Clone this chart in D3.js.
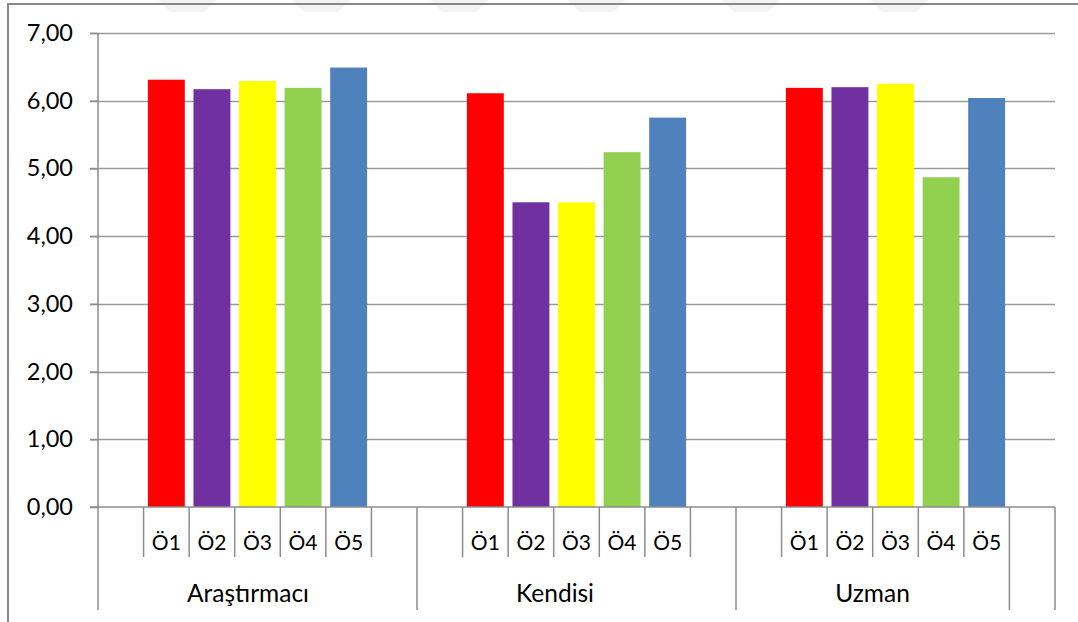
<!DOCTYPE html>
<html>
<head>
<meta charset="utf-8">
<script src="https://cdn.jsdelivr.net/npm/d3@7"></script>
<style>
  html, body { margin: 0; padding: 0; background: #fff; }
  svg { display: block; }
  text { font-family: Lato, "Open Sans", sans-serif; fill: #000; }
</style>
</head>
<body>
<svg id="chart" width="1078" height="622"></svg>
<script>
// Rater groups and the five items rated inside each group
const groups = ["Araştırmacı", "Kendisi", "Uzman"];
const items = ["Ö1", "Ö2", "Ö3", "Ö4", "Ö5"];
const itemColors = ["#FF0000", "#7030A0", "#FFFF00", "#92D050", "#4F81BD"];

// Mean scores per group, in item order
const arastirmaciValues = [6.31, 6.17, 6.29, 6.19, 6.49];
const kendisiValues = [6.11, 4.50, 4.50, 5.24, 5.75];
const uzmanValues = [6.19, 6.20, 6.25, 4.87, 6.04];

const yTicks = [0, 1, 2, 3, 4, 5, 6, 7];

const groupValues = [arastirmaciValues, kendisiValues, uzmanValues];

const svg = d3.select("#chart");
const W = 1078, H = 622;
const plot = { left: 98, right: 1055, top: 33, bottom: 507 };
// horizontal nudge of each group caption, as laid out on the category axis
const groupLabelShift = [-9.5, -21.5, -23];

// faint watermark shapes along the top edge
const wm = svg.append("g").attr("fill", "#f3f3f3");
[158, 292, 430, 568, 722, 870].forEach(x0 => {
  wm.append("path")
    .attr("d", `M${x0},0 L${x0 + 58},0 L${x0 + 46},12 L${x0 + 12},12 Z`);
});

// chart frame
svg.append("path")
  .attr("d", `M8,${H} L8,4 L${W},4`)
  .attr("fill", "none")
  .attr("stroke", "#888")
  .attr("stroke-width", 2);

const y = d3.scaleLinear().domain([0, 7]).range([plot.bottom, plot.top]);

// outer band: rater groups; inner band: one slot per item plus an empty slot each side
const xGroup = d3.scaleBand().domain(groups).range([plot.left, plot.right]).padding(0);
const slotKeys = d3.range(items.length + 2);
const xSlot = d3.scaleBand().domain(slotKeys).range([0, xGroup.bandwidth()]).padding(0);
const barFrac = 0.81;

// horizontal gridlines (extend through the tick marks on the left)
svg.append("g")
  .selectAll("line")
  .data(yTicks.filter(d => d > 0))
  .join("line")
  .attr("x1", plot.left - 8)
  .attr("x2", plot.right)
  .attr("y1", d => Math.round(y(d)) + 0.5)
  .attr("y2", d => Math.round(y(d)) + 0.5)
  .attr("stroke", "#9a9a9a")
  .attr("stroke-width", 1.5);

// bars
const bars = [];
groups.forEach((g, gi) => {
  items.forEach((it, ii) => {
    bars.push({ group: g, item: it, value: groupValues[gi][ii], color: itemColors[ii], slot: ii + 1 });
  });
});
const bw = xSlot.bandwidth() * barFrac;
svg.append("g")
  .selectAll("rect")
  .data(bars)
  .join("rect")
  .attr("x", d => xGroup(d.group) + xSlot(d.slot) + (xSlot.bandwidth() - bw) / 2)
  .attr("width", bw)
  .attr("y", d => y(d.value))
  .attr("height", d => y(0) - y(d.value))
  .attr("fill", d => d.color);

// y axis with value labels
const yAxis = d3.axisLeft(y)
  .tickValues(yTicks)
  .tickFormat(d => d3.format(".2f")(d).replace(".", ","))
  .tickSize(8)
  .tickPadding(17);
const yg = svg.append("g")
  .attr("transform", `translate(${plot.left},0)`)
  .call(yAxis);
yg.select(".domain").remove();
yg.selectAll(".tick line").attr("stroke", "#8c8c8c").attr("stroke-width", 1.5);
yg.selectAll(".tick text")
  .style("font-family", "Lato, 'Open Sans', sans-serif")
  .style("font-size", "23.5px")
  .attr("fill", "#000");

// vertical axis line, running down through the category rows
svg.append("line")
  .attr("x1", plot.left).attr("x2", plot.left)
  .attr("y1", plot.top).attr("y2", 610)
  .attr("stroke", "#8c8c8c").attr("stroke-width", 1.5);

// baseline
svg.append("line")
  .attr("x1", plot.left - 8).attr("x2", plot.right)
  .attr("y1", y(0)).attr("y2", y(0))
  .attr("stroke", "#8c8c8c").attr("stroke-width", 1.5);

// category dividers: short ones between item slots, long ones at group edges
const catAxis = svg.append("g").attr("stroke", "#8c8c8c").attr("stroke-width", 1.5);
groups.forEach((g, gi) => {
  for (let s = 1; s <= items.length + 1; s++) {
    const x = xGroup(g) + xSlot(s);
    const isLong = (gi === groups.length - 1 && s === items.length + 1);
    catAxis.append("line")
      .attr("x1", x).attr("x2", x)
      .attr("y1", y(0)).attr("y2", isLong ? 610 : 557);
  }
  const xe = xGroup(g) + xGroup.bandwidth();
  catAxis.append("line")
    .attr("x1", xe).attr("x2", xe)
    .attr("y1", y(0)).attr("y2", 610);
});

// item labels and group captions
const labels = svg.append("g");
groups.forEach((g, gi) => {
  items.forEach((it, ii) => {
    labels.append("text")
      .attr("x", xGroup(g) + xSlot(ii + 1) + xSlot.bandwidth() / 2)
      .attr("y", 550)
      .attr("text-anchor", "middle")
      .style("font-size", "21px")
      .text(it);
  });
  labels.append("text")
    .attr("x", xGroup(g) + xGroup.bandwidth() / 2 + groupLabelShift[gi])
    .attr("y", 602)
    .attr("text-anchor", "middle")
    .style("font-size", "24.5px")
    .text(g);
});
</script>
</body>
</html>
